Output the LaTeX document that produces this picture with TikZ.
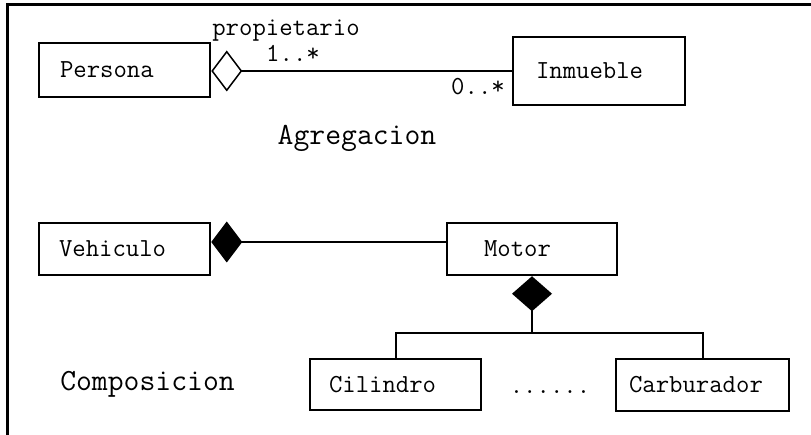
\documentclass[tikz,border=0pt]{standalone}
\usepackage{fontspec}
\usetikzlibrary{arrows.meta}
\tikzset{
  boxfont/.style={font=\ttfamily\fontsize{26}{29}\selectfont},
  labelfont/.style={font=\ttfamily\fontsize{30.8}{34}\selectfont},
  umlbox/.style n args={5}{draw, line width=2.5pt, boxfont, align=left,
    minimum width=#1pt, minimum height=#2pt, inner xsep=#3pt, inner ysep=0pt,
    text width=#4pt, anchor=center},
  conn/.style={line width=2pt},
  opendiam/.style={-{Diamond[open,length=31pt,width=41pt,line width=1.5pt]}},
}
\begin{document}
\begin{tikzpicture}[x=1pt,y=-1pt]
\useasboundingbox (0,0) rectangle (811,435);
\draw[line width=3pt] (811,5) -- (7,5) -- (7,435);
% aggregation
\node[umlbox={171}{54}{21}{129}{}] (Persona) at (124.5,70) {Persona};
\node[umlbox={172}{68}{23}{126}{}] (Inmueble) at (599,71) {Inmueble};
\draw[conn,opendiam] (Inmueble.west) -- (Inmueble.west -| Persona.east);
\node[boxfont,anchor=base] (prop) at (286,36) {propietario};
\node[boxfont,anchor=base] (m1) at (293,62) {1..*};
\node[boxfont,anchor=base] (m2) at (478,95) {0..*};
\node[labelfont,anchor=base] (agr) at (357,145) {Agregacion};
% composition
\node[umlbox={171}{52}{20}{131}{}] (Vehiculo) at (124.5,249) {Vehiculo};
\node[umlbox={170}{52}{37}{96}{}] (Motor) at (532,249) {Motor};
\draw[conn,-{Diamond[length=31pt,width=41pt]}] ([yshift=7pt]Motor.west) -- ([yshift=7pt]Vehiculo.east);
\node[umlbox={171}{51}{19}{133}{}] (Cilindro) at (395.5,384.5) {Cilindro};
\node[umlbox={173}{52}{13}{147}{}] (Carburador) at (702.5,385) {Carburador};
\coordinate (br) at (Motor.south |- 0,333);
\draw[conn,-{Diamond[length=35pt,width=40pt]}] (br) -- (Motor.south);
\draw[conn] (Cilindro.north) |- (Carburador.north |- br) -- (Carburador.north);
\node[boxfont,anchor=base] (dots) at (550,393) {......};
\node[labelfont,anchor=base] (comp) at (147.5,390) {Composicion};
\end{tikzpicture}
\end{document}
